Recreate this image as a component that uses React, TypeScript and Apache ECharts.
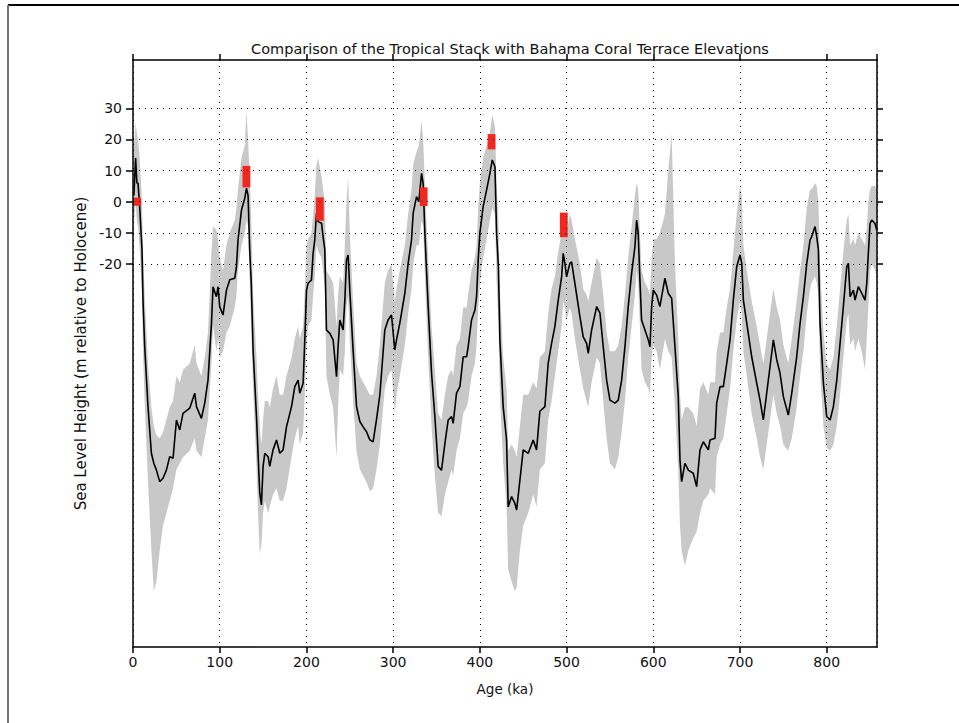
import React, { useEffect, useRef } from "react";
import * as echarts from "echarts";

const age = [1.0, 3.0, 4.5, 5.8, 7.7, 10.4, 11.5, 13.5, 17.3, 21.2, 24.0, 27.0, 30.8, 34.6, 38.5, 42.3, 46.2, 50.1, 53.9, 57.7, 65.4, 71.2, 73.2, 78.9, 82.7, 86.5, 90.5, 92.3, 96.2, 98.1, 100, 103.8, 107.8, 111.6, 117.3, 119.3, 121.1, 125.1, 128.9, 130.8, 132.7, 134.6, 136.4, 138.5, 142.4, 144.2, 146.2, 148.1, 150, 152, 155.8, 157.7, 161.5, 165.5, 169.3, 173.1, 177, 182.8, 186.6, 190.4, 192.3, 196.2, 198.1, 200.1, 201.9, 205.8, 207.7, 209.6, 211.6, 213.5, 217.4, 219.2, 221.2, 223.1, 227, 230.8, 234.7, 236.5, 238.5, 242.3, 244.3, 246.2, 248.1, 250, 253.8, 257.8, 261.6, 265.4, 269.3, 273.1, 276.9, 280.8, 284.7, 290.4, 294.2, 298.1, 301.9, 303.9, 307.7, 313.5, 317.3, 321.2, 323.1, 327, 329.6, 332.8, 334.6, 336.6, 338.3, 340.4, 344.3, 348.1, 351.9, 355.8, 359.7, 363.5, 367.4, 369.2, 373.1, 377, 380.8, 384.7, 386.5, 390.4, 394.3, 396.2, 398.1, 400, 403.8, 407.8, 411.6, 414.3, 417.4, 419.3, 421.4, 423.1, 426.9, 430.8, 432.7, 436.6, 440.4, 442.4, 446.2, 450, 455.8, 461.5, 465.4, 469.2, 475, 478.8, 482.7, 486.5, 490.4, 494.3, 496.1, 498.1, 500, 503.8, 505.8, 509.6, 515.4, 519.2, 523.1, 525, 528.9, 534.7, 538.5, 542.3, 546.2, 550, 555.8, 559.6, 563.5, 567.3, 571.1, 575, 578.8, 580.8, 582.6, 584.6, 586.5, 590.4, 594.3, 596.2, 598.1, 600, 603.9, 607.6, 613.4, 617.3, 621.2, 625, 628.8, 630.8, 632.7, 636.5, 640.4, 646.1, 650, 653.9, 657.7, 663.5, 665.5, 671.2, 673.1, 677, 680.8, 684.7, 688.5, 692.3, 696.2, 700, 702, 703.9, 707.8, 713.5, 719.3, 723.1, 726.9, 730.8, 734.6, 738.5, 742.4, 746.2, 750, 755.7, 759.7, 765.4, 769.3, 773.1, 777, 780.8, 782.7, 786.5, 788.5, 790.4, 792.3, 796.2, 800, 803.9, 807.7, 811.6, 815.4, 819.2, 823.1, 825, 827, 830.8, 832.7, 836.5, 840.4, 844.2, 846.2, 848, 850, 851.9, 855.7, 857.7];

const stack = [2, 14, 6, 5.9, -1.6, -15.5, -31.6, -46.6, -65.8, -80.8, -84, -86.2, -89.9, -88.8, -86.2, -81.9, -82.4, -70.1, -73.3, -68, -66.3, -61.5, -65.8, -69.6, -64.7, -57.3, -39, -27.3, -30.5, -27.3, -33.7, -36.4, -28.4, -25.1, -24.6, -20.9, -12.3, -2.7, 1.1, 4.3, 2, -15.5, -26.2, -47.6, -69, -80.8, -93.6, -97.4, -85, -80.8, -81.9, -85, -79.7, -76.5, -80.8, -79.7, -72.3, -65.8, -59.4, -57.3, -61.5, -58.3, -44.4, -28.4, -26.2, -25.1, -16.6, -12.3, -3.7, -6.4, -6.9, -11.2, -15.5, -41.2, -42.3, -44.4, -56.2, -46.6, -38, -41.2, -31.6, -18.7, -17.1, -28.4, -47.6, -65.8, -70.6, -72.3, -73.9, -76.5, -77.1, -70, -62, -41.2, -38, -36.4, -47.6, -44.4, -39, -29.4, -19.8, -12.3, -3.7, 1.6, 0, 9.1, 5.9, -10.1, -20.9, -33.7, -55.1, -69, -85, -86.2, -77.6, -70.1, -69, -71.2, -61.5, -59.4, -49.8, -49.8, -46.6, -38, -34.8, -30.5, -18.7, -10.1, -1.6, 3.8, 9.1, 13.4, 11.2, -10.1, -20.9, -44.4, -65.8, -76.5, -98, -94.7, -96.9, -99, -89.4, -79.7, -80.8, -76.5, -79.7, -67.3, -65.8, -51.9, -45.5, -40.1, -31.6, -24.1, -16.6, -19.8, -24.1, -19.8, -19.3, -26.2, -36.9, -43.4, -45.5, -48.7, -41.2, -33.7, -35.8, -46.6, -57.3, -63.7, -64.7, -63.7, -57.3, -46.6, -33.7, -23, -14.5, -5.9, -10.1, -25, -38, -41.2, -44.4, -46.6, -33.7, -28.4, -30, -33.7, -24.6, -29.4, -31, -46.6, -62.6, -82.9, -89.9, -84, -86.2, -87.2, -91.5, -79.7, -77.1, -79.7, -76.5, -76, -64.7, -59.4, -59.4, -51.9, -44.4, -31.6, -20.9, -17.1, -19.8, -31.6, -39, -49.8, -58.3, -63.7, -70.1, -61.5, -53, -44.4, -50.8, -55.1, -62.6, -68.5, -61.5, -49.8, -39, -30.5, -19.8, -12.3, -11.2, -8, -11.2, -15.5, -39, -58.3, -69, -70.1, -65.8, -57.3, -45.5, -33.7, -20.9, -19.8, -30.5, -28.4, -31.6, -27.3, -29.4, -31.6, -26.2, -16.6, -7, -5.9, -7, -9.1];

const upper = [18, 25, 22, 20, 14, 0, -15, -30, -52, -66, -72, -75, -76, -74, -70, -66, -64, -56, -58, -54, -52, -46, -52, -56, -50, -42, -16, -8, -9, -12, -18, -22, -14, -10, -6, -2, 4, 14, 18, 29, 20, 8, -6, -30, -50, -62, -72, -78, -70, -64, -64, -66, -60, -56, -62, -62, -56, -50, -44, -40, -44, -40, -28, -14, -12, -10, -4, 2, 12, 14, 8, 4, 0, -22, -24, -26, -40, -30, -24, -26, -14, 0, 8, -10, -32, -52, -56, -58, -60, -62, -62, -56, -46, -26, -22, -20, -32, -28, -22, -14, -4, 4, 12, 16, 18, 26, 20, 6, -6, -18, -40, -54, -68, -70, -62, -56, -54, -56, -46, -44, -34, -34, -30, -22, -18, -14, -2, 6, 14, 18, 22, 28, 24, 6, -6, -28, -50, -60, -80, -78, -80, -82, -72, -62, -62, -58, -60, -50, -48, -36, -28, -24, -16, -10, -6, -8, -10, -4, -6, -12, -20, -28, -30, -32, -26, -18, -20, -30, -42, -48, -48, -46, -40, -30, -18, -8, 2, 6, 4, -10, -22, -26, -28, -30, -18, -12, -12, -10, -4, 10, 22, -20, -44, -62, -70, -66, -66, -68, -72, -60, -58, -62, -58, -58, -48, -42, -42, -34, -28, -16, -4, 5, 2, -14, -22, -32, -40, -46, -52, -44, -36, -28, -34, -38, -46, -52, -44, -32, -22, -14, -2, 4, 4, 6, 5, 0, -20, -42, -52, -54, -50, -40, -28, -16, -6, -4, -14, -12, -14, -10, -12, -14, -8, 0, 4, 5, 5, 4];

const lower = [-8, 0, -6, -8, -15, -30, -48, -65, -90, -112, -125, -122, -112, -104, -100, -96, -92, -86, -84, -82, -80, -76, -80, -82, -76, -70, -52, -40, -48, -44, -50, -48, -42, -40, -34, -30, -22, -14, -10, -6, -8, -26, -40, -60, -85, -100, -113, -110, -100, -96, -100, -98, -94, -92, -96, -96, -92, -82, -76, -72, -78, -74, -62, -46, -40, -38, -30, -24, -14, -16, -18, -22, -28, -56, -62, -66, -82, -66, -54, -56, -48, -34, -30, -44, -64, -80, -86, -88, -90, -93, -92, -86, -78, -60, -56, -54, -68, -62, -56, -46, -36, -28, -20, -14, -14, -6, -8, -24, -36, -50, -72, -88, -100, -101, -94, -90, -86, -88, -80, -76, -68, -66, -64, -56, -52, -46, -34, -26, -18, -12, -6, -2, -4, -26, -38, -62, -84, -98, -118, -122, -125, -124, -112, -104, -100, -94, -98, -86, -84, -70, -64, -56, -48, -40, -32, -34, -38, -34, -36, -44, -54, -60, -64, -66, -58, -50, -52, -64, -76, -84, -86, -82, -74, -64, -50, -40, -30, -22, -26, -40, -54, -58, -60, -62, -50, -46, -48, -54, -44, -48, -50, -66, -86, -104, -112, -117, -112, -108, -106, -100, -96, -94, -92, -94, -82, -78, -76, -68, -60, -48, -38, -32, -36, -48, -56, -68, -76, -82, -86, -78, -70, -62, -68, -72, -78, -80, -76, -66, -56, -48, -36, -28, -26, -24, -26, -30, -54, -72, -79, -80, -78, -72, -62, -50, -38, -36, -46, -44, -48, -44, -48, -54, -44, -34, -22, -20, -22, -24];

const coralAge = [4.8, 130.8, 215.4, 335.2, 413.5, 496.8];
const coralLow = [-1.3, 4.6, -6.1, -1.4, 16.8, -11.4];
const coralHigh = [1.3, 11.5, 1.4, 4.6, 21.7, -3.5];

const yTickValues = [-20, -10, 0, 10, 20, 30];

const FONT = "DejaVu Sans";

export default function App() {
  const ref = useRef<HTMLDivElement>(null);
  useEffect(() => {
    if (!ref.current) return;
    const chart = echarts.init(ref.current, null, { renderer: "svg" });
    const bandData = age.map((a, i) => [a, lower[i], upper[i]]);
    const lineData = age.map((a, i) => [a, stack[i]]);
    const coralData = coralAge.map((a, i) => [a, coralLow[i], coralHigh[i]]);
    const halfW = 4.5;
    const gridLine = { show: true, lineStyle: { color: "#000", width: 1, type: [1, 5] } };
    chart.setOption({
      animation: false,
      backgroundColor: "#fff",
      title: {
        text: "Comparison of the Tropical Stack with Bahama Coral Terrace Elevations",
        left: 505,
        textAlign: "center",
        top: 36,
        textStyle: { fontFamily: FONT, fontSize: 14.5, fontWeight: "normal", color: "#111" },
      },
      grid: { left: 133, right: 82, top: 60, bottom: 76 },
      xAxis: [
        {
          type: "value",
          min: 0,
          max: 858,
          interval: 100,
          position: "bottom",
          z: 10,
          name: "Age (ka)",
          nameLocation: "middle",
          nameGap: 35,
          nameTextStyle: { fontFamily: FONT, fontSize: 13.5, color: "#111" },
          axisLine: { show: true, onZero: false, lineStyle: { color: "#000", width: 1.5 } },
          axisTick: { show: true, inside: false, length: 6, lineStyle: { color: "#000", width: 1.5 } },
          axisLabel: { fontFamily: FONT, fontSize: 14, color: "#111", margin: 8, showMaxLabel: false },
          splitLine: gridLine,
        },
        {
          type: "value",
          min: 0,
          max: 858,
          interval: 100,
          position: "top",
          z: 10,
          axisLine: { show: true, onZero: false, lineStyle: { color: "#000", width: 1.5 } },
          axisTick: { show: true, inside: false, length: 6, lineStyle: { color: "#000", width: 1.5 } },
          axisLabel: { show: false },
          splitLine: { show: false },
        },
      ],
      yAxis: [
        {
          type: "value",
          min: -143,
          max: 45.5,
          position: "left",
          z: 10,
          name: "Sea Level Height (m relative to Holocene)",
          nameLocation: "middle",
          nameGap: 43,
          nameTextStyle: { fontFamily: FONT, fontSize: 15, color: "#111" },
          axisLine: { show: true, onZero: false, lineStyle: { color: "#000", width: 1.5 } },
          axisTick: { show: true, inside: false, length: 7, customValues: yTickValues, lineStyle: { color: "#000", width: 1.5 } },
          axisLabel: { fontFamily: FONT, fontSize: 14, color: "#111", margin: 11, customValues: yTickValues },
          splitLine: gridLine,
        },
        {
          type: "value",
          min: -143,
          max: 45.5,
          position: "right",
          z: 10,
          axisLine: { show: true, onZero: false, lineStyle: { color: "#000", width: 1.5 } },
          axisTick: { show: true, inside: false, length: 6, customValues: yTickValues, lineStyle: { color: "#000", width: 1.5 } },
          axisLabel: { show: false, customValues: yTickValues },
          splitLine: { show: false },
        },
      ],
      graphic: [
        { type: "line", shape: { x1: 8, y1: 5, x2: 959, y2: 5 }, style: { stroke: "#000", lineWidth: 2 } },
        { type: "line", shape: { x1: 8, y1: 5, x2: 8, y2: 723 }, style: { stroke: "#777", lineWidth: 2 } },
      ],
      series: [
        {
          type: "custom",
          name: "uncertainty",
          xAxisIndex: 0,
          yAxisIndex: 0,
          data: bandData,
          encode: { x: 0, y: [1, 2] },
          silent: true,
          z: 1,
          renderItem: (params: any, api: any) => {
            if (params.dataIndex !== 0) return null;
            const pts: number[][] = [];
            for (let i = 0; i < age.length; i++) pts.push(api.coord([age[i], upper[i]]));
            for (let i = age.length - 1; i >= 0; i--) pts.push(api.coord([age[i], lower[i]]));
            return { type: "polygon", shape: { points: pts }, style: { fill: "#c8c8c8", stroke: "none" } };
          },
        },
        {
          type: "line",
          name: "Tropical stack",
          xAxisIndex: 0,
          yAxisIndex: 0,
          data: lineData,
          showSymbol: false,
          symbol: "none",
          lineStyle: { color: "#000", width: 1.6 },
          z: 3,
        },
        {
          type: "custom",
          name: "Bahama coral terraces",
          xAxisIndex: 0,
          yAxisIndex: 0,
          data: coralData,
          encode: { x: 0, y: [1, 2] },
          z: 4,
          renderItem: (params: any, api: any) => {
            const a = api.value(0);
            const p1 = api.coord([a - halfW, api.value(2)]);
            const p2 = api.coord([a + halfW, api.value(1)]);
            return {
              type: "rect",
              shape: { x: p1[0], y: p1[1], width: p2[0] - p1[0], height: p2[1] - p1[1] },
              style: { fill: "#f0281e" },
            };
          },
        },
      ],
    });
    return () => chart.dispose();
  }, []);
  return <div ref={ref} style={{ position: "absolute", left: 0, top: 0, width: 959, height: 723 }} />;
}
